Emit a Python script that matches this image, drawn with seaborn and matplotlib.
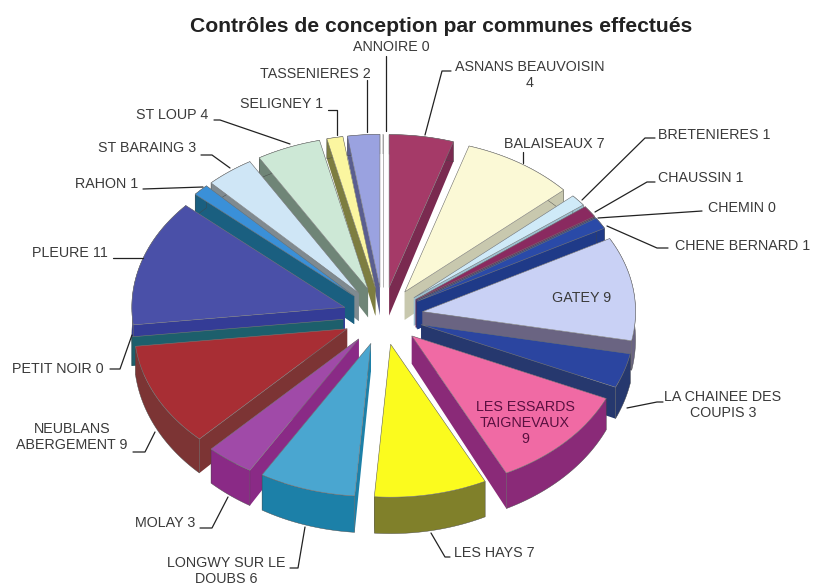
import matplotlib
matplotlib.use("Agg")
import matplotlib.pyplot as plt
from matplotlib.patches import Polygon
import numpy as np
import seaborn as sns

# donnees, sens horaire depuis le haut
communes = ["ASNANS BEAUVOISIN", "BALAISEAUX", "BRETENIERES", "CHAUSSIN", "CHEMIN",
            "CHENE BERNARD", "GATEY", "LA CHAINEE DES COUPIS", "LES ESSARDS TAIGNEVAUX",
            "LES HAYS", "LONGWY SUR LE DOUBS", "MOLAY", "NEUBLANS ABERGEMENT",
            "PETIT NOIR", "PLEURE", "RAHON", "ST BARAING", "ST LOUP", "SELIGNEY",
            "TASSENIERES", "ANNOIRE"]
controles = [4, 7, 1, 1, 0, 1, 9, 3, 9, 7, 6, 3, 9, 0, 11, 1, 3, 4, 1, 2, 0]
couleurs = ["#a53a68", "#fbf9d6", "#cfeaf8", "#8a2a60", "#2a3f78", "#2a4aa8", "#c9d1f5",
            "#2b45a0", "#f06aa4", "#fbfb1e", "#4aa6d0", "#a04aa8", "#a82e34", "#1d5f6c",
            "#4a50a8", "#3a90d8", "#cfe6f6", "#cde8d6", "#fbf6a0", "#9aa2e0", "#d8e0f0"]
cotes = ["#7a2a50", "#c8c8ae", "#9cc0d0", "#6a2050", "#2a3f78", "#1f3a88", "#6a6482",
         "#26386e", "#8a2a78", "#80802a", "#1c80a8", "#8a2a86", "#7c3434", "#1d5f6c",
         "#343c96", "#1a5f80", "#7f8a90", "#6f8577", "#7d7d40", "#5a5e90", "#d8e0f0"]

# texte des etiquettes et mise en page (pixels)
etiquettes = ["ASNANS BEAUVOISIN\n4", "BALAISEAUX 7", "BRETENIERES 1", "CHAUSSIN 1", "CHEMIN 0",
              "CHENE BERNARD 1", "GATEY 9", "LA CHAINEE DES\nCOUPIS 3", "LES ESSARDS\nTAIGNEVAUX\n9",
              "LES HAYS 7", "LONGWY SUR LE\nDOUBS 6", "MOLAY 3", "NEUBLANS\nABERGEMENT 9",
              "PETIT NOIR 0", "PLEURE 11", "RAHON 1", "ST BARAING 3", "ST LOUP 4", "SELIGNEY 1",
              "TASSENIERES 2", "ANNOIRE 0"]
pos_texte = [(530, 75), (554, 144), (714, 135), (701, 178), (742, 208), (743, 246), (582, 298),
             (723, 405), (525, 423), (494, 553), (226, 571), (165, 523), (72, 437), (58, 369),
             (70, 253), (107, 184), (147, 148), (172, 115), (282, 104), (315, 74), (391, 47)]
traits = [[(425, 135), (442, 71), (451, 71)],
          [(523, 163), (523, 152)],
          [(582, 200), (645, 138), (655, 138)],
          [(595, 212), (647, 182), (655, 182)],
          [(598, 218), (702, 211)],
          [(607, 226), (657, 248), (668, 248)],
          [],
          [(627, 408), (657, 402), (663, 402)],
          [],
          [(431, 533), (445, 557), (450, 557)],
          [(305, 527), (298, 568), (290, 568)],
          [(228, 497), (212, 528), (200, 528)],
          [(155, 432), (145, 452), (133, 452)],
          [(132, 335), (120, 369), (110, 369)],
          [(143, 258), (113, 258)],
          [(203, 187), (143, 189)],
          [(230, 168), (212, 155), (201, 155)],
          [(290, 144), (220, 120), (214, 120)],
          [(337, 135), (337, 110), (328, 110)],
          [(367, 132), (367, 80)],
          [(386, 131), (386, 56)]]

cx, cy = 383, 316
rx, ry = 213, 153
eclat = 40
ep = 28

sns.set_theme(style="white")
plt.rcParams["font.family"] = ["Liberation Sans", "DejaVu Sans"]

fig = plt.figure(figsize=(8.14, 5.88), dpi=100)
ax = fig.add_axes([0, 0, 1, 1])
ax.set_xlim(0, 814)
ax.set_ylim(588, 0)
ax.axis("off")

total = sum(controles)
fin = 90 - np.cumsum(controles) / total * 360
debut = np.r_[90, fin[:-1]]
milieu = (debut + fin) / 2
palette = sns.color_palette(couleurs)
palette_cote = sns.color_palette(cotes)


def point(a, ox, oy, bas=False):
    t = np.radians(a)
    z = ep * (1 - 0.3 * np.sin(t)) if bas else 0
    return ox + rx * np.cos(t), oy - ry * np.sin(t) + z


def tranche(i):
    a0, a1 = debut[i], fin[i]
    t = np.radians(milieu[i])
    ox = cx + eclat * np.cos(t)
    oy = cy - eclat * ry / rx * np.sin(t)
    arc = np.linspace(a0, a1, 40)
    haut = [point(a, ox, oy) for a in arc]
    bas = [point(a, ox, oy, bas=True) for a in arc]
    c0 = (ox, oy)
    c1 = (ox, oy + ep)
    # faces de coupe puis paroi exterieure puis dessus
    for a in (a0, a1):
        ax.add_patch(Polygon([c0, point(a, ox, oy), point(a, ox, oy, bas=True), c1],
                             fc=palette_cote[i], ec="none"))
    ax.add_patch(Polygon(haut + bas[::-1], fc=palette_cote[i], ec="#444444", lw=0.3))
    ax.add_patch(Polygon([c0] + haut, fc=palette[i], ec="#777777", lw=0.4))


# de l'arriere vers l'avant, les communes a 0 gardent juste leur face de coupe
for i in sorted(range(len(controles)), key=lambda k: -np.sin(np.radians(milieu[k]))):
    tranche(i)

# etiquettes et traits de rappel
for i, txt in enumerate(etiquettes):
    x, y = pos_texte[i]
    col = "#5a1040" if communes[i] == "LES ESSARDS TAIGNEVAUX" else "#3a3a3a"
    ax.text(x, y, txt, ha="center", va="center", fontsize=10.3, color=col, linespacing=1.2)
    if traits[i]:
        ax.plot(*zip(*traits[i]), color="#222222", lw=0.9)

ax.text(441, 27, "Contrôles de conception par communes effectués", ha="center", va="center",
        fontsize=15.2, fontweight="bold", color="#222222")

fig.savefig("out.png", dpi=100)
